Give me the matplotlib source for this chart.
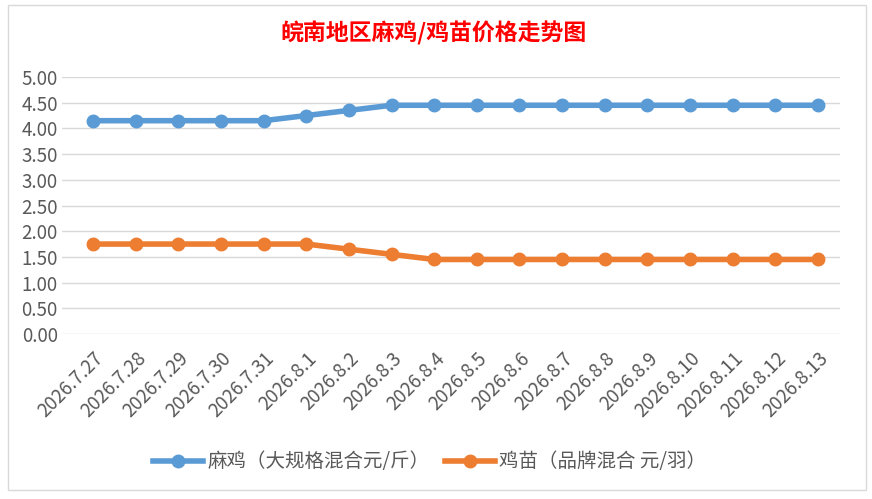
import numpy as np
import matplotlib.pyplot as plt
from matplotlib.patches import Rectangle

plt.rcParams['font.family'] = ['Noto Sans CJK SC', 'DejaVu Sans']

dates = ['2026.7.27', '2026.7.28', '2026.7.29', '2026.7.30', '2026.7.31',
         '2026.8.1', '2026.8.2', '2026.8.3', '2026.8.4', '2026.8.5', '2026.8.6',
         '2026.8.7', '2026.8.8', '2026.8.9', '2026.8.10', '2026.8.11',
         '2026.8.12', '2026.8.13']
maji = [4.15, 4.15, 4.15, 4.15, 4.15, 4.25, 4.35, 4.45, 4.45, 4.45, 4.45,
        4.45, 4.45, 4.45, 4.45, 4.45, 4.45, 4.45]
jimiao = [1.75, 1.75, 1.75, 1.75, 1.75, 1.75, 1.65, 1.55, 1.45, 1.45, 1.45,
          1.45, 1.45, 1.45, 1.45, 1.45, 1.45, 1.45]

fig = plt.figure(figsize=(8.72, 4.99), dpi=100)
# chart border
fig.patches.append(Rectangle((8/872, 9/499), 858/872, 485/499, transform=fig.transFigure,
                             fill=False, edgecolor='#d9d9d9', lw=1))

ax = fig.add_axes([62/872, (499-334)/499, (840-62)/872, (334-77)/499])
x = np.arange(len(dates))
ax.plot(x, maji, '-o', color='#5b9bd5', lw=4, ms=9, label='麻鸡（大规格混合元/斤）')
ax.plot(x, jimiao, '-o', color='#ed7d31', lw=4, ms=9, label='鸡苗（品牌混合 元/羽）')

ax.set_ylim(0, 5)
ax.set_yticks(np.arange(0, 5.01, 0.5))
ax.set_yticklabels(['%.2f' % v for v in np.arange(0, 5.01, 0.5)])
ax.set_xlim(-0.727, 17.516)
ax.set_xticks(x)
ax.set_xticklabels(dates, rotation=45, ha='right', rotation_mode='anchor')
ax.grid(axis='y', color='#d9d9d9', lw=1)
ax.set_axisbelow(True)
for s in ax.spines.values():
    s.set_visible(False)
ax.tick_params(length=0, labelsize=13.5, colors='#595959')
ax.tick_params(axis='y', pad=3)
ax.tick_params(axis='x', pad=10)

fig.text(434/872, 1 - 33/499, '皖南地区麻鸡/鸡苗价格走势图', color='red', fontsize=16.5,
         fontweight='bold', ha='center', va='center')
fig.legend(loc='center', bbox_to_anchor=(429.5/872, 1 - 462/499), ncol=2, frameon=False,
           fontsize=14, labelcolor='#595959', handlelength=2.6, columnspacing=0.8,
           handletextpad=0.2)

fig.savefig('out.png', dpi=100)
